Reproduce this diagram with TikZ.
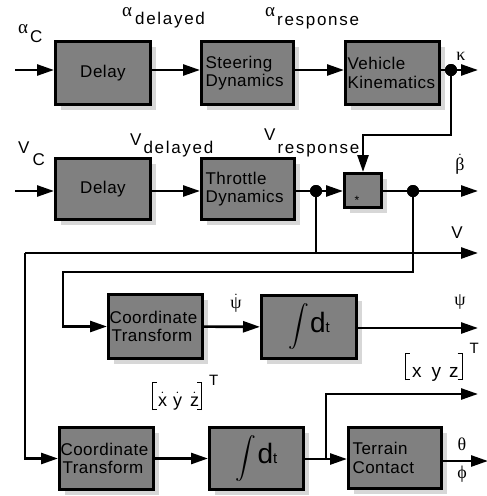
\documentclass[tikz,border=0pt]{standalone}
\usepackage{fontspec}
\usepackage{exscale}
\setmainfont{Liberation Sans}
\newfontfamily\gr{Liberation Serif}
\usetikzlibrary{arrows.meta,shadows}
\definecolor{boxgray}{RGB}{128,128,128}
\definecolor{shadowgray}{RGB}{215,215,215}
\newcommand\boxfont{\fontsize{17}{18.5}\selectfont\addfontfeatures{LetterSpace=3}}
\newcommand\lblfont{\fontsize{17}{19}\selectfont}
\newcommand\galpha{{\fontsize{19}{21}\selectfont\gr α}}
\newcommand\subt[2]{\raisebox{-#1}{\addfontfeatures{LetterSpace=10}#2}}
\newcommand\dotted[1]{\(\dot{\hbox{#1}}\)}
% brackets built from rules: #1 depth below baseline, #2 total height, #3 top tick position
\newcommand\brL[3]{\rule[-#1]{0.9pt}{#2}\rlap{\rule[-#1]{4pt}{0.9pt}}\rlap{\rule[#3]{4pt}{0.9pt}}}
\newcommand\brR[3]{\llap{\rule[-#1]{4pt}{0.9pt}}\llap{\rule[#3]{4pt}{0.9pt}}\rule[-#1]{0.9pt}{#2}}
\newcommand\integ{{\fontsize{22}{26}\selectfont\(\displaystyle\int\)}\hspace{1pt}{\fontsize{28}{30}\selectfont d}{\fontsize{15}{17}\selectfont t}}
\tikzset{
  blk/.style={draw, line width=3pt, fill=boxgray, inner xsep=6pt, inner ysep=0pt,
    drop shadow={shadow xshift=5pt, shadow yshift=-5pt, fill=shadowgray, opacity=1},
    font=\boxfont},
  ln/.style={line width=2.6pt},
  arr/.style={ln, -{Triangle[length=17pt,width=11pt]}},
  dotn/.style={circle, fill=black, inner sep=0pt, minimum size=12pt},
  lbl/.style={inner sep=0pt, font=\lblfont},
  gk/.style={inner sep=0pt, font=\fontsize{18}{20}\selectfont\gr},
}
\begin{document}
\begin{tikzpicture}[x=1pt,y=-1pt]
\useasboundingbox (0,0) rectangle (487,496);
% ---- boxes ----
\node[blk, minimum width=95pt, minimum height=63pt, text width=83pt, align=center] (delay1) at (103,73) {\raisebox{-3pt}{Delay}};
\node[blk, minimum width=92pt, minimum height=63pt, text width=84pt, align=left, inner xsep=4pt] (steer) at (247.5,73) {Steering\\Dynamics};
\node[blk, minimum width=94pt, minimum height=63pt, text width=90pt, align=left, inner xsep=2pt] (vehkin) at (392.5,73) {Vehicle\\Kinematics};
\node[blk, minimum width=95pt, minimum height=61pt, text width=83pt, align=center] (delay2) at (103,189) {\raisebox{-3pt}{Delay}};
\node[blk, minimum width=93pt, minimum height=61pt, text width=85pt, align=left, inner xsep=4pt] (throttle) at (248,189) {Throttle\\Dynamics};
\node[blk, minimum width=37pt, minimum height=34pt] (mult) at (363,190.5) {};
\node[inner sep=0pt, font=\fontsize{12}{14}\selectfont] (multlbl) at (357,200) {*};
\node[blk, minimum width=94pt, minimum height=64pt, text width=92pt, align=left, inner xsep=1pt] (ct1) at (155.5,326.5) {Coordinate\\\hspace*{2pt}Transform};
\node[blk, minimum width=95pt, minimum height=63pt] (int1) at (309,327) {\integ};
\node[blk, minimum width=94pt, minimum height=62pt, text width=92pt, align=left, inner xsep=1pt] (ct2) at (106.5,458.5) {Coordinate\\\hspace*{2pt}Transform};
\node[blk, minimum width=94pt, minimum height=62pt] (int2) at (256.5,458.5) {\integ};
\node[blk, minimum width=93pt, minimum height=61pt, text width=85pt, align=left, inner xsep=4pt] (terrain) at (395,458) {Terrain\\Contact};
% ---- coordinates ----
\coordinate (r1) at (0,70);
\coordinate (r2) at (0,191);
\coordinate (in1) at (15,70);
\coordinate (in2) at (15,191);
\node[dotn] (dot1) at (451,70) {};
\node[dotn] (dot2) at (316,191) {};
\node[dotn] (dot3) at (413,191) {};
\coordinate (kend) at (478,70);
\coordinate (kbend) at (363,135);
\coordinate (bend) at (478,191);
\coordinate (vjunc) at (316,253);
\coordinate (vleft) at (25,253);
\coordinate (vend) at (478,253);
\coordinate (tbend) at (63,272);
\coordinate (psiend) at (478,328);
\coordinate (pjunc) at (326,459);
\coordinate (xyzend) at (478,394);
\coordinate (angend) at (488,461);
% ---- connectors ----
\draw[arr] (in1) -- (in1 -| delay1.west);
\draw[arr] (delay1.east |- r1) -- (steer.west |- r1);
\draw[arr] (steer.east |- r1) -- (vehkin.west |- r1);
\draw[arr] (vehkin.east |- r1) -- (kend);
\draw[arr] (dot1.center) |- (kbend) -- (mult.north);
\draw[arr] (in2) -- (in2 -| delay2.west);
\draw[arr] (delay2.east |- r2) -- (throttle.west |- r2);
\draw[arr] (throttle.east |- r2) -- (mult.west |- r2);
\draw[arr] (mult.east |- r2) -- (bend);
\draw[ln] (dot2.center) -- (vjunc);
\draw[arr] (vleft) -- (vend);
\draw[arr] (vleft) |- (ct2.west);
\draw[arr] (dot3.center) |- (tbend) |- (ct1.west);
\draw[arr] (ct1) -- (int1);
\draw[arr] (int1.east |- psiend) -- (psiend);
\draw[arr] (ct2) -- (int2);
\draw[arr] (int2.east |- pjunc) -- (terrain.west |- pjunc);
\draw[arr] (pjunc) |- (xyzend);
\draw[arr] (terrain.east |- angend) -- (angend);
\node[dotn] at (dot1) {};
\node[dotn] at (dot2) {};
\node[dotn] at (dot3) {};
% ---- labels ----
\node[lbl, anchor=base west] (lac) at (18,33) {\galpha\hspace{2pt}\subt{9pt}{C}};
\node[lbl, anchor=base west] (lad) at (122,16) {\galpha\hspace{3pt}\subt{8pt}{delayed}};
\node[lbl, anchor=base west] (lar) at (265,16) {\galpha\hspace{2pt}\subt{9pt}{response}};
\node[lbl, anchor=base west] (lvc) at (18,153) {V\hspace{3pt}\subt{12pt}{C}};
\node[lbl, anchor=base west] (lvd) at (130,145) {V\hspace{2pt}\subt{8pt}{delayed}};
\node[lbl, anchor=base west] (lvr) at (264,140) {V\hspace{2pt}\subt{13pt}{response}};
\node[gk] (lk) at (461,56) {κ};
\node[gk] (lb) at (460,164) {\dotted{\gr β}};
\node[lbl] (lv) at (457,233) {V};
\node[gk] (lpd) at (236,303) {\dotted{\gr ψ}};
\node[gk] (lp) at (460,302) {ψ};
\node[gk] (lth) at (462,444) {θ};
\node[gk] (lph) at (462,474) {ϕ};
\node[lbl, anchor=base west, font=\fontsize{19}{21}\selectfont] (lxyz) at (405,377) {\brL{3pt}{27pt}{23.1pt}\hspace{6pt}x\hspace{10pt}y\hspace{8pt}z\hspace{3pt}\brR{3pt}{27pt}{23.1pt}\hspace{7pt}\raisebox{24pt}{\fontsize{15}{17}\selectfont T}};
\node[lbl, anchor=base west, font=\fontsize{18}{20}\selectfont] (lxyzd) at (152,406) {\brL{4pt}{28pt}{23.1pt}\hspace{5pt}\dotted{x}\hspace{6pt}\dotted{y}\hspace{8pt}\dotted{z}\hspace{2pt}\brR{4pt}{28pt}{23.1pt}\hspace{7pt}\raisebox{21pt}{\fontsize{15}{17}\selectfont T}};
\end{tikzpicture}
\end{document}
